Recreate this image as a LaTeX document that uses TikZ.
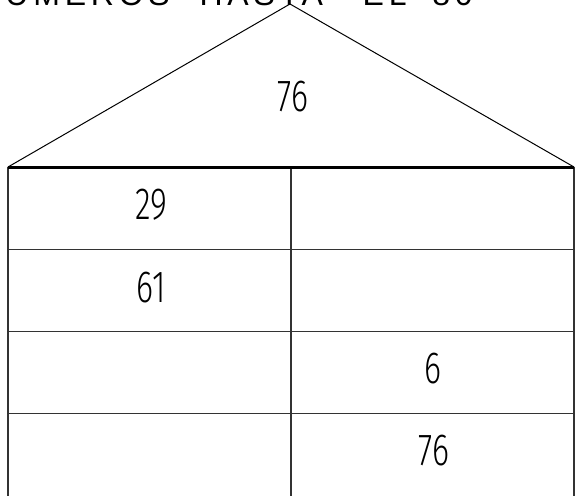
\documentclass[tikz,border=0pt]{standalone}
\usepackage{fontspec}
\setmainfont{Liberation Sans}
\newfontfamily\titlefont[LetterSpace=15]{Liberation Sans}
\newfontfamily\digitfont[FakeStretch=0.72]{Fira Sans Light}

\begin{document}
\begin{tikzpicture}[x=1pt, y=-1pt,
        grid/.style={line width=1.5pt, draw=black!80},
        num/.style={font=\digitfont\fontsize{45}{45}\selectfont, inner sep=0pt}]
        \useasboundingbox (0,0) rectangle (575,495);

        % Draw title
        \node[anchor=base east, font=\titlefont\fontsize{32}{32}\selectfont, inner sep=0pt] (title) at (473,6) {NÚMEROS\hspace{16pt} HASTA\hspace{26pt} EL\hspace{12pt} 80};

        % Draw roof
        \coordinate (L) at (8,167);
        \coordinate (R) at (574,167);
        \coordinate (top) at (290,4);
        \draw[line width=1pt] (L) -- (top) -- (R);

        % Draw table
        \draw[grid] (L) -- (8,500);
        \draw[grid] (R) -- (574,500);
        \draw[grid] (291,167) -- (291,500);
        \foreach \y in {249.5,331.5,413.5}
            \draw[grid] (8,\y) -- (574,\y);
        \draw[line width=3pt] (L) -- (R);

        % Draw numbers
        \node[num] (roof) at (293,97) {76};
        \node[num] (a1) at (151,205) {29};
        \node[num] (a2) at (151,288) {61};
        \node[num] (b3) at (433,369) {6};
        \node[num] (b4) at (434,451) {76};
    \end{tikzpicture}
\end{document}
